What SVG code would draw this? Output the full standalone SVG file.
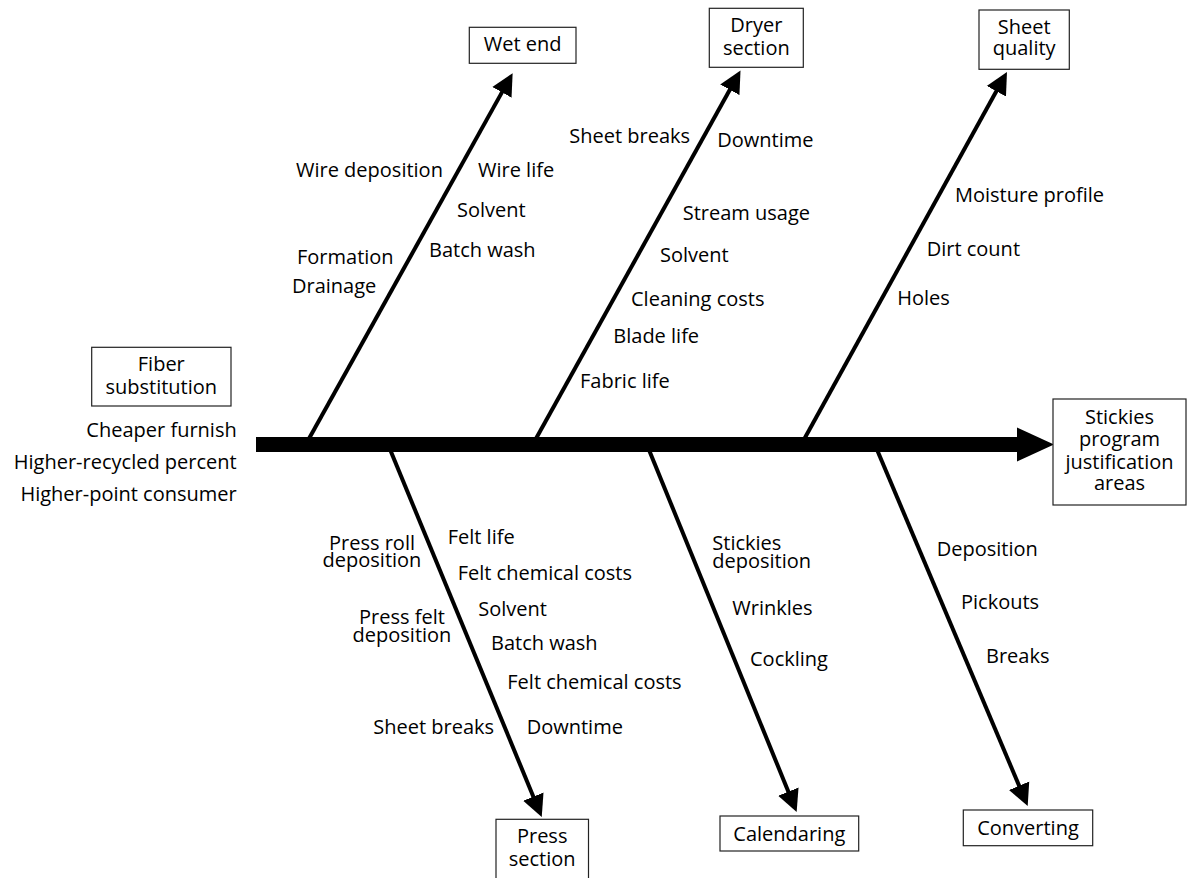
<svg xmlns="http://www.w3.org/2000/svg" width="1189" height="878" viewBox="0 0 1189 878">
<style>
text{font-family:"Open Sans","Liberation Sans",sans-serif;font-size:20px;fill:#000}
.c{text-anchor:middle}
.r{text-anchor:end}
.box{fill:#fff;stroke:#222;stroke-width:1.2}
.bone{stroke:#000;stroke-width:4;fill:none}
</style>
<defs>
<marker id="ah" markerUnits="userSpaceOnUse" markerWidth="24" markerHeight="24" viewBox="0 -12 24 24" refX="2" refY="0" orient="auto">
<path d="M0,-11 L22,0 L0,11 Z" fill="#000"/>
</marker>
</defs>
<rect width="1189" height="878" fill="#fff"/>
<g id="connectors">
<path d="M256,437 H1018 V452 H256 Z" fill="#000"/>
<path d="M1017,427.5 L1054,444.5 L1017,461.5 Z" fill="#000"/>
<line class="bone" x1="306" y1="444" x2="502.9" y2="90.6" marker-end="url(#ah)"/>
<line class="bone" x1="533" y1="444" x2="730.8" y2="88" marker-end="url(#ah)"/>
<line class="bone" x1="801.5" y1="444" x2="997.3" y2="89.5" marker-end="url(#ah)"/>
<line class="bone" x1="387.8" y1="444" x2="534.1" y2="798.5" marker-end="url(#ah)"/>
<line class="bone" x1="646.6" y1="444" x2="789.1" y2="793.5" marker-end="url(#ah)"/>
<line class="bone" x1="874.6" y1="444" x2="1019.9" y2="787.6" marker-end="url(#ah)"/>
</g>
<g id="node-head">
<rect class="box" x="1053" y="399" width="133" height="106"/>
<text class="c" x="1119.5" y="424">Stickies</text>
<text class="c" x="1119.5" y="446">program</text>
<text class="c" x="1119.5" y="469">justification</text>
<text class="c" x="1119.5" y="490">areas</text>
</g>
<g id="node-fiber">
<rect class="box" x="91.7" y="347.3" width="139.3" height="58.7"/>
<text class="c" x="161.3" y="370.7">Fiber</text>
<text class="c" x="161.3" y="393.5">substitution</text>
<text class="r" x="236.7" y="437.3">Cheaper furnish</text>
<text class="r" x="236.7" y="469">Higher-recycled percent</text>
<text class="r" x="236.7" y="500.7">Higher-point consumer</text>
</g>
<g id="node-wetend">
<rect class="box" x="469.3" y="27.3" width="106.7" height="36"/>
<text class="c" x="522.7" y="50.7">Wet end</text>
<text x="296" y="177.3">Wire deposition</text>
<text x="478" y="177.3">Wire life</text>
<text x="457" y="216.7">Solvent</text>
<text x="429" y="257">Batch wash</text>
<text x="297" y="264">Formation</text>
<text x="292" y="293.3">Drainage</text>
</g>
<g id="node-dryer">
<rect class="box" x="709.3" y="8.3" width="94" height="59"/>
<text class="c" x="756.3" y="32.3">Dryer</text>
<text class="c" x="756.3" y="54.5">section</text>
<text x="569.3" y="143">Sheet breaks</text>
<text x="717.3" y="147">Downtime</text>
<text x="682.7" y="220">Stream usage</text>
<text x="660" y="262.3">Solvent</text>
<text x="631" y="306">Cleaning costs</text>
<text x="613.3" y="343.3">Blade life</text>
<text x="580" y="388.3">Fabric life</text>
</g>
<g id="node-sheetquality">
<rect class="box" x="979" y="10" width="90.3" height="59.3"/>
<text class="c" x="1024.2" y="34.3">Sheet</text>
<text class="c" x="1024.2" y="55">quality</text>
<text x="955" y="202.3">Moisture profile</text>
<text x="926.7" y="256">Dirt count</text>
<text x="897.3" y="305">Holes</text>
</g>
<g id="node-press">
<rect class="box" x="496" y="819.3" width="92.5" height="70"/>
<text class="c" x="542.2" y="843.3">Press</text>
<text class="c" x="542.2" y="866">section</text>
<text class="c" x="372" y="550">Press roll</text>
<text class="c" x="372" y="567.3">deposition</text>
<text x="447.7" y="544">Felt life</text>
<text x="457.7" y="580">Felt chemical costs</text>
<text x="478.3" y="616">Solvent</text>
<text class="c" x="402" y="624.3">Press felt</text>
<text class="c" x="402" y="641.5">deposition</text>
<text x="491" y="650">Batch wash</text>
<text x="507.3" y="689.3">Felt chemical costs</text>
<text x="373.3" y="734">Sheet breaks</text>
<text x="526.7" y="734">Downtime</text>
</g>
<g id="node-calendaring">
<rect class="box" x="720" y="816" width="138.7" height="35"/>
<text class="c" x="789.3" y="840.7">Calendaring</text>
<text x="712.3" y="550">Stickies</text>
<text x="712.3" y="568.3">deposition</text>
<text x="732.3" y="615">Wrinkles</text>
<text x="750" y="665.7">Cockling</text>
</g>
<g id="node-converting">
<rect class="box" x="963.3" y="810" width="129.4" height="35.7"/>
<text class="c" x="1028" y="835">Converting</text>
<text x="936.7" y="556">Deposition</text>
<text x="961" y="609.3">Pickouts</text>
<text x="986" y="663.3">Breaks</text>
</g>
</svg>
